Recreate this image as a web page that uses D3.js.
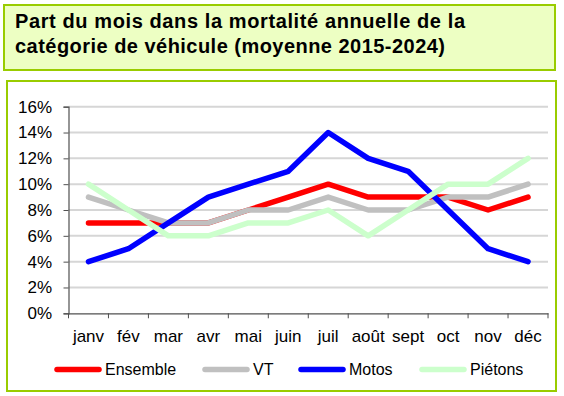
<!DOCTYPE html>
<html>
<head>
<meta charset="utf-8">
<script src="https://cdn.jsdelivr.net/npm/d3@7"></script>
<style>
  body { margin: 0; background: #fff; }
  svg { display: block; font-family: "Liberation Sans", Arial, sans-serif; }
</style>
</head>
<body>
<div id="chart"></div>
<script>
const months = ["janv", "fév", "mar", "avr", "mai", "juin", "juil", "août", "sept", "oct", "nov", "déc"];
const ensemble = [7, 7, 7, 7, 8, 9, 10, 9, 9, 9, 8, 9];
const vt = [9, 8, 7, 7, 8, 8, 9, 8, 8, 9, 9, 10];
const motos = [4, 5, 7, 9, 10, 11, 14, 12, 11, 8, 5, 4];
const pietons = [10, 8, 6, 6, 7, 7, 8, 6, 8, 10, 10, 12];
const yTicks = [0, 2, 4, 6, 8, 10, 12, 14, 16];

const series = [
  { name: "Ensemble", values: ensemble, color: "#ff0000" },
  { name: "VT", values: vt, color: "#c0c0c0" },
  { name: "Motos", values: motos, color: "#0000ff" },
  { name: "Piétons", values: pietons, color: "#ccffcc" }
];

const width = 564, height = 396;
const svg = d3.select("#chart").append("svg")
  .attr("width", width).attr("height", height);

// title box
svg.append("rect")
  .attr("x", 4).attr("y", 5).attr("width", 551).attr("height", 65)
  .attr("fill", "#edffc3").attr("stroke", "#99cc00").attr("stroke-width", 2);
const title = svg.append("text")
  .attr("font-size", 20).attr("font-weight", "bold").attr("fill", "#000");
title.append("tspan").attr("x", 15).attr("y", 27.5)
  .attr("textLength", 450).attr("lengthAdjust", "spacing")
  .text("Part du mois dans la mortalité annuelle de la");
title.append("tspan").attr("x", 15).attr("y", 52.5)
  .attr("textLength", 430).attr("lengthAdjust", "spacing")
  .text("catégorie de véhicule (moyenne 2015-2024)");

// chart box
svg.append("rect")
  .attr("x", 7).attr("y", 81).attr("width", 549).attr("height", 310)
  .attr("fill", "#fff").attr("stroke", "#99cc00").attr("stroke-width", 2);

const plotL = 68.5, plotR = 548, plotT = 106.7, plotB = 313.3;

const x = d3.scaleBand().domain(months).range([plotL, plotR]);
const y = d3.scaleLinear().domain([0, 16]).range([plotB, plotT]);

// gridlines
svg.append("g")
  .selectAll("line")
  .data(yTicks.filter(d => d > 0))
  .join("line")
  .attr("x1", plotL).attr("x2", plotR)
  .attr("y1", d => y(d)).attr("y2", d => y(d))
  .attr("stroke", "#d6d6d6").attr("stroke-width", 2);

// y axis
const yAxis = svg.append("g")
  .attr("transform", `translate(${plotL},0)`)
  .call(d3.axisLeft(y).tickValues(yTicks).tickSize(5).tickPadding(11.5).tickFormat(d => d + "%"));
yAxis.select(".domain").attr("stroke", "#505050").attr("stroke-width", 1.2);
yAxis.selectAll(".tick line").attr("stroke", "#505050");
yAxis.selectAll("text").attr("font-size", 17).attr("fill", "#000")
  .attr("font-family", "'Liberation Sans', Arial, sans-serif");

// x axis
const xAxis = svg.append("g")
  .attr("transform", `translate(0,${plotB})`)
  .call(d3.axisBottom(x).tickSize(0).tickPadding(16.5));
xAxis.select(".domain").attr("stroke", "#505050").attr("stroke-width", 1.2);
xAxis.selectAll("text").attr("font-size", 17).attr("fill", "#000")
  .attr("font-family", "'Liberation Sans', Arial, sans-serif");
svg.append("g")
  .selectAll("line")
  .data(d3.range(months.length + 1))
  .join("line")
  .attr("x1", i => plotL + i * x.step()).attr("x2", i => plotL + i * x.step())
  .attr("y1", plotB).attr("y2", plotB + 5)
  .attr("stroke", "#505050").attr("stroke-width", 1);

// lines
const line = d3.line()
  .x((d, i) => x(months[i]) + x.bandwidth() / 2)
  .y(d => y(d));

svg.append("g")
  .selectAll("path")
  .data(series)
  .join("path")
  .attr("d", d => line(d.values))
  .attr("fill", "none")
  .attr("stroke", d => d.color)
  .attr("stroke-width", 5.5)
  .attr("stroke-linejoin", "round")
  .attr("stroke-linecap", "round");

// legend
const legendX = [57, 205, 301, 422];
const lg = svg.append("g").selectAll("g")
  .data(series)
  .join("g")
  .attr("transform", (d, i) => `translate(${legendX[i]},369.5)`);
lg.append("line")
  .attr("x1", 0).attr("x2", 42).attr("y1", 0).attr("y2", 0)
  .attr("stroke", d => d.color).attr("stroke-width", 5.5).attr("stroke-linecap", "round");
lg.append("text")
  .attr("x", 48).attr("y", 5.5)
  .attr("font-size", 16).attr("fill", "#000")
  .text(d => d.name);
</script>
</body>
</html>
